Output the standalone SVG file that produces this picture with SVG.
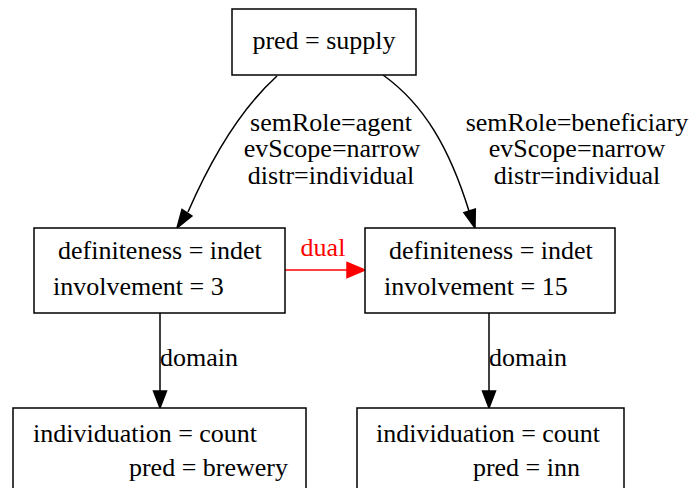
<svg xmlns="http://www.w3.org/2000/svg" width="689" height="488" viewBox="0 0 689 488">
  <style>
    .box { fill: #ffffff; stroke: #000000; stroke-width: 1.5; }
    .t { font-family: "Liberation Serif", "Times New Roman", serif; font-size: 26px; fill: #000000; }
    .edge { fill: none; stroke: #000000; stroke-width: 1.5; }
    .head { fill: #000000; stroke: #000000; stroke-width: 1.5; }
    .red { stroke: #ff0000; }
    .rhead { fill: #ff0000; stroke: #ff0000; stroke-width: 1.5; }
    .rt { fill: #ff0000; }
  </style>
  <rect width="689" height="488" fill="#ffffff"/>

  <g id="connectors">
    <!-- supply -> agent -->
    <path class="edge" d="M277,76 C245,105 215,150 188,212" />
    <path class="head" d="M192,216 L177,228 L182,209.5 Z"/>
    <!-- supply -> beneficiary -->
    <path class="edge" d="M383,75 C425,105 450,150 469,211" />
    <path class="head" d="M475.3,209 L475,228 L463.9,212.7 Z"/>
    <!-- dual -->
    <path class="edge red" d="M285,270 L347,270" />
    <path class="rhead" d="M347,262.5 L365,270 L347,277.5 Z"/>
    <!-- domain edges -->
    <path class="edge" d="M160,313 L160,391" />
    <path class="head" d="M153.5,391 L160,408 L166.5,391 Z"/>
    <path class="edge" d="M489,313 L489,391" />
    <path class="head" d="M482.5,391 L489,408 L495.5,391 Z"/>

    <!-- multi-line edge labels -->
    <text class="t" text-anchor="middle"><tspan x="331" y="131">semRole=agent</tspan><tspan x="332" y="157">evScope=narrow</tspan><tspan x="331" y="184">distr=individual</tspan></text>
    <text class="t" text-anchor="middle"><tspan x="577" y="131">semRole=beneficiary</tspan><tspan x="577" y="157">evScope=narrow</tspan><tspan x="577" y="184">distr=individual</tspan></text>
    <text class="t rt" x="323" y="256" text-anchor="middle">dual</text>
    <text class="t" x="160" y="366">domain</text>
    <text class="t" x="489" y="366">domain</text>
  </g>

  <g id="supply">
    <rect class="box" x="232" y="9" width="184" height="66"/>
    <text class="t" x="324" y="49" text-anchor="middle">pred = supply</text>
  </g>

  <g id="agent">
    <rect class="box" x="34" y="228" width="251" height="85"/>
    <text class="t" x="58" y="259">definiteness = indet</text>
    <text class="t" x="53" y="295">involvement = 3</text>
  </g>

  <g id="beneficiary">
    <rect class="box" x="365" y="228" width="250" height="85"/>
    <text class="t" x="389" y="259">definiteness = indet</text>
    <text class="t" x="384" y="295">involvement = 15</text>
  </g>

  <g id="brewery">
    <rect class="box" x="13" y="408" width="293" height="90"/>
    <text class="t" x="33" y="442">individuation = count</text>
    <text class="t" x="288" y="476" text-anchor="end">pred = brewery</text>
  </g>

  <g id="inn">
    <rect class="box" x="357" y="408" width="267" height="90"/>
    <text class="t" x="376" y="442">individuation = count</text>
    <text class="t" x="580" y="476" text-anchor="end">pred = inn</text>
  </g>
</svg>
